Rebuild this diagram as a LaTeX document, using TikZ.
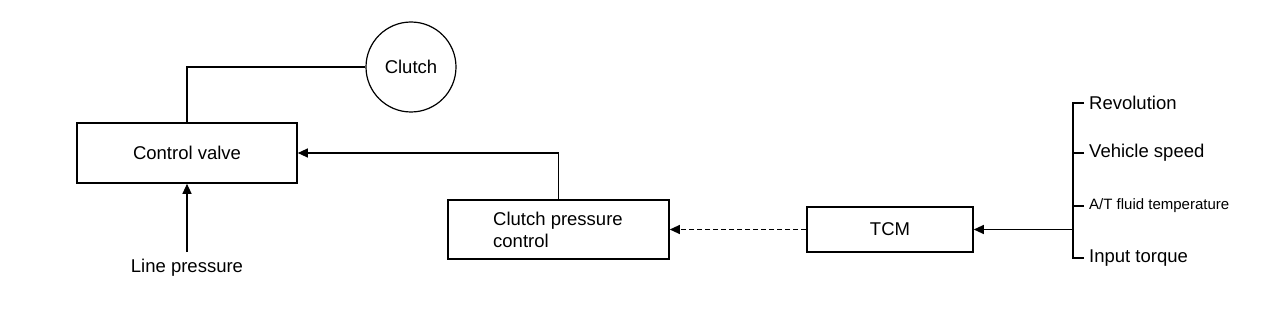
\documentclass[tikz,border=0pt]{standalone}
\usepackage{fontspec}
\setmainfont{Liberation Sans}
\usetikzlibrary{arrows.meta}
\begin{document}
\begin{tikzpicture}[x=1pt,y=-1pt,
  box/.style={draw,line width=1.6pt,inner sep=0pt,font=\fontsize{18.5}{22}\selectfont},
  conn/.style={line width=1.2pt},
  arr/.style={conn,-{Triangle[length=10pt,width=9pt]}},
  lbl/.style={inner sep=0pt,font=\fontsize{18.5}{22}\selectfont},
  sig/.style={anchor=west,inner xsep=5pt,inner ysep=0pt,font=\fontsize{18.5}{22}\selectfont}]
\useasboundingbox (0,0) rectangle (1264,326);
\node[box,minimum width=220pt,minimum height=60pt] (cv) at (187,153) {Control valve};
\node[box,circle,minimum size=90pt,line width=1.2pt] (clutch) at (411,67) {Clutch};
\node[box,minimum width=221pt,minimum height=59pt] (cpc) at (558.5,229.5) {};
\node[lbl,anchor=west,align=left] (cpct) at (493,229.5) {Clutch pressure\\control};
\node[box,minimum width=166pt,minimum height=45pt] (tcm) at (890,229.5) {TCM};
\node[lbl] (lp) at (187,268) {Line pressure};
\coordinate (lps) at (187,252);
\node[sig] (rev) at (1084,103) {Revolution};
\node[sig] (veh) at (1084,153) {Vehicle speed};
\node[sig,font=\fontsize{15}{18}\selectfont] (atf) at (1084,206) {A/T fluid temperature};
\node[sig] (inp) at (1084,258) {Input torque};
\coordinate (bt) at (1073,103);
\coordinate (bb) at (1073,258);
% connectors
\draw[conn] (cv.north) |- (clutch.west);
\draw[arr] (lps) -- (cv.south);
\draw[arr] (cpc.north) |- (cv.east);
\draw[arr,dash pattern=on 5pt off 3pt] (tcm.west) -- (cpc.east);
\draw[conn,line width=1.6pt] (rev.west) -- (bt) -- (bb) -- (inp.west);
\draw[conn] (veh.west) -- (veh.west -| bt);
\draw[conn] (atf.west) -- (atf.west -| bt);
\draw[arr] (tcm.east -| bt) -- (tcm.east);
\end{tikzpicture}
\end{document}
